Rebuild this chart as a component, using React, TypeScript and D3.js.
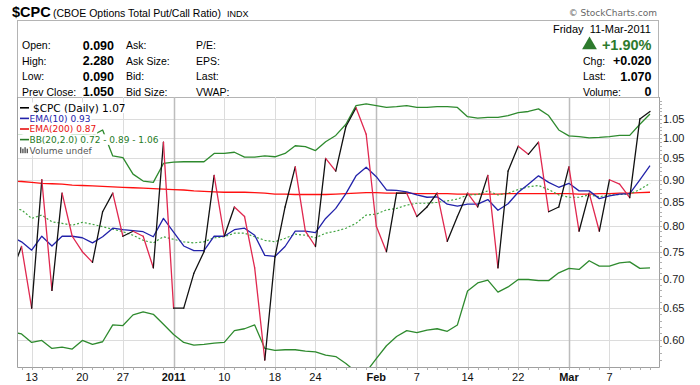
import React, { useLayoutEffect, useRef, useState } from 'react';
import * as d3 from 'd3';

// trading days shown on the chart
const dates = [
  "2010-12-09", "2010-12-10", "2010-12-13", "2010-12-14", "2010-12-15", "2010-12-16", "2010-12-17",
  "2010-12-20", "2010-12-21", "2010-12-22", "2010-12-23", "2010-12-27", "2010-12-28", "2010-12-29",
  "2010-12-30", "2010-12-31",
  "2011-01-03", "2011-01-04", "2011-01-05", "2011-01-06", "2011-01-07", "2011-01-10", "2011-01-11",
  "2011-01-12", "2011-01-13", "2011-01-14", "2011-01-18", "2011-01-19", "2011-01-20", "2011-01-21",
  "2011-01-24", "2011-01-25", "2011-01-26", "2011-01-27", "2011-01-28", "2011-01-31",
  "2011-02-01", "2011-02-02", "2011-02-03", "2011-02-04", "2011-02-07", "2011-02-08", "2011-02-09",
  "2011-02-10", "2011-02-11", "2011-02-14", "2011-02-15", "2011-02-16", "2011-02-17", "2011-02-18",
  "2011-02-22", "2011-02-23", "2011-02-24", "2011-02-25", "2011-02-28",
  "2011-03-01", "2011-03-02", "2011-03-03", "2011-03-04", "2011-03-07", "2011-03-08", "2011-03-09",
  "2011-03-10", "2011-03-11",
];

const closeValues = [
  0.71, 0.76, 0.65, 0.90, 0.68, 0.87, 0.78, 0.75, 0.73, 0.83, 0.87, 0.78, 0.79, 0.78, 0.72, 0.99,
  0.65, 0.65, 0.71, 0.75, 0.91, 0.78, 0.84, 0.82, 0.72, 0.57, 0.74, 0.84, 0.93, 0.79, 0.76, 0.95, 0.92, 1.03, 1.08, 1.01,
  0.80, 0.75, 0.87, 0.87, 0.82, 0.84, 0.87, 0.77, 0.82, 0.87, 0.84, 0.91, 0.72, 0.92, 0.98, 0.96, 0.99, 0.83, 0.84,
  0.93, 0.79, 0.87, 0.79, 0.90, 0.89, 0.86, 1.05, 1.07,
];

const ema10Values = [
  0.779, 0.769, 0.753, 0.780, 0.761, 0.780, 0.780, 0.777, 0.767, 0.779, 0.796, 0.793, 0.791, 0.789, 0.779, 0.816,
  0.788, 0.761, 0.752, 0.752, 0.780, 0.780, 0.793, 0.796, 0.782, 0.743, 0.741, 0.760, 0.790, 0.790, 0.787, 0.816, 0.837, 0.869, 0.909, 0.929,
  0.907, 0.877, 0.876, 0.873, 0.866, 0.861, 0.862, 0.846, 0.842, 0.846, 0.846, 0.856, 0.833, 0.847, 0.872, 0.890, 0.909, 0.894, 0.883,
  0.892, 0.875, 0.875, 0.858, 0.864, 0.868, 0.869, 0.900, 0.933,
];

const ema200Values = [
  0.897, 0.896, 0.894, 0.892, 0.891, 0.890, 0.888, 0.887, 0.886, 0.885, 0.884, 0.883, 0.882, 0.881, 0.880, 0.879,
  0.878, 0.877, 0.875, 0.874, 0.873, 0.872, 0.872, 0.872, 0.871, 0.870, 0.868, 0.868, 0.867, 0.867, 0.867, 0.867, 0.868, 0.869, 0.870, 0.871,
  0.871, 0.870, 0.870, 0.870, 0.869, 0.869, 0.869, 0.869, 0.868, 0.868, 0.868, 0.868, 0.868, 0.869, 0.869, 0.869, 0.869, 0.869, 0.869,
  0.869, 0.868, 0.868, 0.869, 0.869, 0.870, 0.870, 0.871, 0.872,
];

const bbUpperValues = [
  1.01, 1.01, 1.02, 1.02, 1.02, 1.02, 1.01, 1.01, 1.007, 1.021, 0.956, 0.952, 0.913, 0.897, 0.894, 0.938,
  0.941, 0.942, 0.942, 0.942, 0.962, 0.962, 0.965, 0.953, 0.953, 0.956, 0.954, 0.962, 0.981, 0.979, 0.969, 0.991, 1.007, 1.036, 1.086, 1.091,
  1.086, 1.081, 1.083, 1.086, 1.081, 1.081, 1.083, 1.083, 1.081, 1.056, 1.052, 1.054, 1.054, 1.059, 1.067, 1.070, 1.077, 1.059, 1.021,
  1.006, 1.004, 1.001, 1.002, 1.004, 1.007, 1.007, 1.036, 1.063,
];

const bbMiddleValues = [
  0.837, 0.834, 0.816, 0.823, 0.809, 0.806, 0.802, 0.808, 0.804, 0.799, 0.794, 0.789, 0.782, 0.772, 0.767, 0.779,
  0.774, 0.769, 0.767, 0.769, 0.777, 0.779, 0.786, 0.786, 0.779, 0.772, 0.769, 0.776, 0.784, 0.782, 0.777, 0.786, 0.790, 0.796, 0.806, 0.823,
  0.825, 0.834, 0.837, 0.844, 0.848, 0.848, 0.850, 0.853, 0.857, 0.866, 0.867, 0.875, 0.866, 0.870, 0.878, 0.884, 0.887, 0.878, 0.866,
  0.861, 0.861, 0.866, 0.862, 0.866, 0.867, 0.868, 0.878, 0.892,
];

const bbLowerValues = [
  0.612, 0.609, 0.596, 0.599, 0.587, 0.589, 0.586, 0.599, 0.593, 0.597, 0.623, 0.622, 0.639, 0.644, 0.640, 0.624,
  0.608, 0.596, 0.592, 0.593, 0.595, 0.596, 0.614, 0.617, 0.623, 0.587, 0.584, 0.585, 0.585, 0.583, 0.582, 0.577, 0.575, 0.565, 0.553, 0.553,
  0.572, 0.591, 0.605, 0.614, 0.611, 0.615, 0.617, 0.613, 0.623, 0.679, 0.693, 0.698, 0.677, 0.686, 0.699, 0.699, 0.697, 0.697, 0.711,
  0.719, 0.717, 0.733, 0.723, 0.723, 0.729, 0.731, 0.719, 0.720,
];

const yTicks = [0.6, 0.65, 0.7, 0.75, 0.8, 0.85, 0.9, 0.95, 1.0, 1.05];
const xTickDates = [
  "2010-12-13", "2010-12-20", "2010-12-27", "2011-01-03", "2011-01-10", "2011-01-18", "2011-01-24",
  "2011-02-01", "2011-02-07", "2011-02-14", "2011-02-22", "2011-03-01", "2011-03-07",
];
const xTickLabels = ["13", "20", "27", "2011", "10", "18", "24", "Feb", "7", "14", "22", "Mar", "7"];
const monthTicks = ["2011", "Feb", "Mar"];

const quoteLabels = ["Open:", "High:", "Low:", "Prev Close:"];
const quoteValues = ["0.090", "2.280", "0.090", "1.050"];
const quoteLabels2 = ["Ask:", "Ask Size:", "Bid:", "Bid Size:"];
const quoteLabels3 = ["P/E:", "EPS:", "Last:", "VWAP:"];
const summaryLabels = ["Chg:", "Last:", "Volume:"];
const summaryValues = ["+0.020", "1.070", "0"];

const BLACK = "#111";
const DOWN = "#e0284f";
const BLUE = "#2222aa";
const RED = "#ff1010";
const GREEN = "#2e8a2e";
const ARIAL = "'Liberation Sans', Arial, sans-serif";
const VERD = "'DejaVu Sans', Verdana, sans-serif";

const legendItems = [
  { text: "$CPC (Daily) 1.07", color: "#000", size: 10.5, mark: "line" },
  { text: "EMA(10) 0.93", color: BLUE, size: 9, mark: "line" },
  { text: "EMA(200) 0.87", color: "#e81010", size: 9, mark: "line" },
  { text: "BB(20,2.0) 0.72 - 0.89 - 1.06", color: "#267a26", size: 9, mark: "line" },
  { text: "Volume undef", color: "#555", size: 9, mark: "bars" },
];

const W = 700;
const H = 385;
const plot = { left: 17, right: 659, top: 97, bottom: 367 };

export default function App() {
  const legendRefs = useRef<(SVGTextElement | null)[]>([]);
  const [legendWidths, setLegendWidths] = useState<number[]>(legendItems.map(() => 80));

  useLayoutEffect(() => {
    setLegendWidths(legendRefs.current.map(t => (t ? t.getComputedTextLength() : 80)));
  }, []);

  const x = d3.scalePoint<string>().domain(dates).range([11.4, 650]);
  const y = d3.scaleLog().domain([0.56, 1.11]).range([plot.bottom, plot.top]);

  const line = d3.line<number>()
    .x((_, i) => x(dates[i]) as number)
    .y(v => y(v));

  const closePts = closeValues.map((v, i) => [x(dates[i]) as number, y(v), v] as [number, number, number]);
  const segments = d3.pairs(closePts);

  const minorTicks = d3.range(57, 111).map(k => k / 100);
  const tri = d3.symbol(d3.symbolTriangle, 95)();

  return (
    <svg width={W} height={H} style={{ position: 'absolute', left: 0, top: 0, background: '#fff' }}>
      <defs>
        <clipPath id="plotClip">
          <rect x={plot.left} y={plot.top} width={plot.right - plot.left} height={plot.bottom - plot.top} />
        </clipPath>
      </defs>
      <rect width={W} height={H} fill="#fff" />

      {/* title */}
      <text x={12} y={17} fontFamily={ARIAL} fontSize={14.5} fontWeight="bold" fill="#000">$CPC</text>
      <text x={53} y={17} fontFamily={ARIAL} fontSize={10.5} fill="#000">(CBOE Options Total Put/Call Ratio)</text>
      <text x={227} y={17} fontFamily={ARIAL} fontSize={9} fill="#000">INDX</text>
      <text x={657} y={16} textAnchor="end" fontFamily={VERD} fontSize={9} fill="#666">© StockCharts.com</text>

      {/* quote box */}
      <rect x={plot.left + 0.5} y={20.5} width={plot.right - plot.left - 1} height={plot.top - 20} fill="none" stroke="#b4b4b4" />
      {quoteLabels.map((t, i) => (
        <g key={t} fontFamily={ARIAL} fontSize={10.5} fill="#000">
          <text x={22} y={49 + i * 15.5}>{t}</text>
          <text x={114} y={49.5 + i * 15.5} textAnchor="end" fontSize={12.5} fontWeight="bold">{quoteValues[i]}</text>
          <text x={126} y={49 + i * 15.5}>{quoteLabels2[i]}</text>
          <text x={196} y={49 + i * 15.5}>{quoteLabels3[i]}</text>
        </g>
      ))}
      <text x={651} y={33} textAnchor="end" fontFamily={ARIAL} fontSize={11} fill="#000" xmlSpace="preserve">Friday  11-Mar-2011</text>
      <path d={tri as string} transform="translate(589.5,45)" fill="#2d7a2d" />
      <text x={651.5} y={49.5} textAnchor="end" fontFamily={ARIAL} fontSize={14.5} fontWeight="bold" fill="#2d7a2d">+1.90%</text>
      {summaryLabels.map((t, i) => (
        <g key={t} fontFamily={ARIAL} fill="#000">
          <text x={583} y={64.5 + i * 15.5} fontSize={10.5}>{t}</text>
          <text x={651.5} y={65 + i * 15.5} textAnchor="end" fontSize={12.5} fontWeight="bold">{summaryValues[i]}</text>
        </g>
      ))}

      {/* grid */}
      {yTicks.map(t => (
        <line key={t} x1={plot.left} x2={plot.right} y1={Math.round(y(t)) + 0.5} y2={Math.round(y(t)) + 0.5} stroke="#dcdcdc" />
      ))}
      {xTickDates.map((d, i) => {
        const px = Math.round(x(d) as number) + 0.5;
        const month = monthTicks.includes(xTickLabels[i]);
        return (
          <line key={d} x1={px} x2={px} y1={plot.top} y2={plot.bottom}
            stroke={month ? "#bdbdbd" : "#dcdcdc"} strokeWidth={month ? 1.5 : 1} />
        );
      })}

      {/* series */}
      <g clipPath="url(#plotClip)" fill="none" strokeLinejoin="round">
        <path d={line(ema200Values) as string} stroke={RED} strokeWidth={1.3} />
        <path d={line(bbUpperValues) as string} stroke={GREEN} strokeWidth={1.3} />
        <path d={line(bbLowerValues) as string} stroke={GREEN} strokeWidth={1.3} />
        <path d={line(bbMiddleValues) as string} stroke="#3fa33f" strokeWidth={1.2} strokeDasharray="2,2" />
        <path d={line(ema10Values) as string} stroke={BLUE} strokeWidth={1.3} />
        {segments.map(([a, b], i) => (
          <line key={i} x1={a[0]} y1={a[1]} x2={b[0]} y2={b[1]}
            stroke={b[2] >= a[2] ? BLACK : DOWN} strokeWidth={1.3} strokeLinecap="round" />
        ))}
      </g>

      {/* legend */}
      {legendItems.map((item, i) => {
        const top = 102.5 + i * 10.6;
        const tx = i === 0 ? 33 : 29.5;
        const cy = top + 5.3;
        return (
          <g key={item.text}>
            <rect x={plot.left + 1} y={top} width={tx - plot.left - 1 + legendWidths[i] + 1} height={10.6} fill="#fff" />
            {item.mark === "line" ? (
              <line x1={20} x2={tx - (i === 0 ? 4 : 0.5)} y1={cy} y2={cy} stroke={item.color} strokeWidth={1.6} />
            ) : (
              <g fill="#555">
                {[0, 1, 2, 3].map(k => (
                  <rect key={k} x={20 + k * 2.2} y={cy - 3 + (k % 2) * 1.5} width={1.4} height={6 - (k % 2) * 1.5} />
                ))}
              </g>
            )}
            <text ref={el => { legendRefs.current[i] = el; }} x={tx} y={cy + (item.size > 10 ? 4 : 3.3)}
              fontFamily={VERD} fontSize={item.size} fill={item.color}>{item.text}</text>
          </g>
        );
      })}

      {/* frame and axes */}
      <path d={`M${plot.left + 0.5},${plot.top}V${plot.bottom + 0.5}H${plot.right + 0.5}V${plot.top}`}
        fill="none" stroke="#a0a0a0" />
      {minorTicks.map(t => (
        <line key={t} x1={plot.right + 0.5} x2={plot.right + 3} y1={Math.round(y(t)) + 0.5} y2={Math.round(y(t)) + 0.5} stroke="#b0b0b0" />
      ))}
      {dates.map(d => {
        const px = Math.round(x(d) as number) + 0.5;
        return px > plot.left && px < plot.right ? (
          <line key={d} x1={px} x2={px} y1={plot.bottom + 0.5} y2={plot.bottom + 3} stroke="#b0b0b0" />
        ) : null;
      })}
      {yTicks.map(t => (
        <text key={t} x={663} y={y(t) + 4} fontFamily={ARIAL} fontSize={11} fill="#222">{t.toFixed(2)}</text>
      ))}
      {xTickDates.map((d, i) => (
        <text key={d} x={x(d) as number} y={381} textAnchor="middle" fontFamily={ARIAL} fontSize={11}
          fontWeight={monthTicks.includes(xTickLabels[i]) ? "bold" : "normal"} fill="#111">{xTickLabels[i]}</text>
      ))}
    </svg>
  );
}
